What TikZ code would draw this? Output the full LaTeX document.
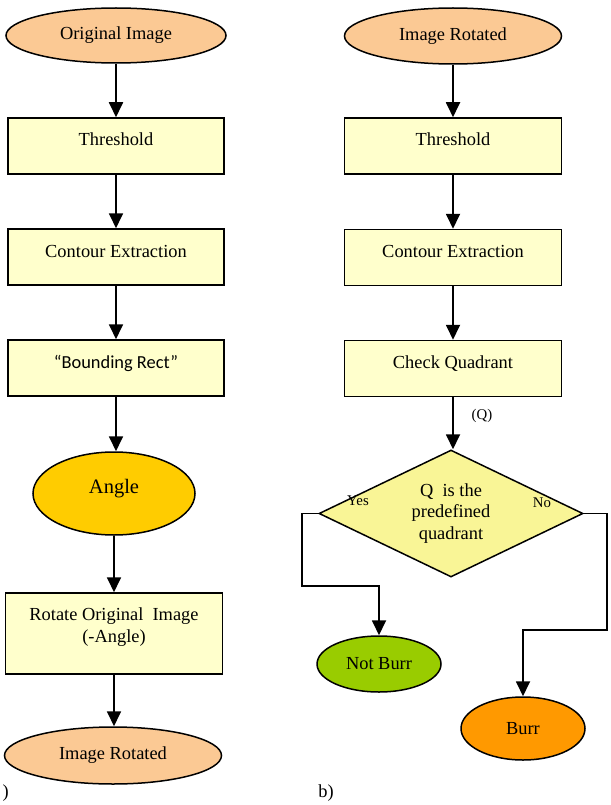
\documentclass[tikz,border=0pt]{standalone}
\usepackage{fontspec}
\setmainfont{Liberation Serif}
\newfontfamily\calibrifont{Carlito}
\usetikzlibrary{arrows.meta,shapes.geometric}
\definecolor{peach}{HTML}{FBC994}
\definecolor{paleyellow}{HTML}{FFFFCC}
\definecolor{amber}{HTML}{FFCC00}
\definecolor{decyellow}{HTML}{F9F596}
\definecolor{limegreen}{HTML}{99CC00}
\definecolor{burrorange}{HTML}{FF9900}

\begin{document}
\begin{tikzpicture}[x=1pt,y=-1pt,
  font=\fontsize{18.4}{21.5}\selectfont,
  flow/.style={line width=1.8pt,-{Triangle[length=15pt,width=14pt]}},
  procbox/.style={draw,line width=1.5pt,fill=paleyellow,minimum width=216pt,minimum height=56pt,inner sep=0pt,text height=12pt,text depth=12pt},
  term/.style={draw,line width=1.5pt,ellipse,inner sep=0pt},
  small/.style={font=\fontsize{14.8}{17}\selectfont}]
\useasboundingbox (0,0) rectangle (610,805);
% a) left chart
\node[term,fill=peach,minimum width=220pt,minimum height=55pt] (orig) at (116,35.5) {Original Image};
\node[procbox] (thrA) at (116,146) {Threshold};
\node[procbox] (contA) at (116,257) {Contour Extraction};
\node[procbox,font=\calibrifont\fontsize{18.4}{21.5}\selectfont] (bound) at (116,368) {“Bounding Rect”};
\node[term,fill=amber,minimum width=162pt,minimum height=83pt,font=\fontsize{20.5}{24}\selectfont,text height=14pt,text depth=14pt] (angle) at (114,493.5) {Angle};
\node[draw,line width=1.5pt,fill=paleyellow,minimum width=217pt,minimum height=81pt,inner sep=0pt,align=center] (rot) at (114,633.5) {Rotate Original\ \ Image\\(-Angle)\rule[-17pt]{0pt}{1pt}};
\node[term,fill=peach,minimum width=217pt,minimum height=57pt] (rotA) at (113,755.5) {Image Rotated};
\draw[flow] (orig.south) -- (orig.south |- thrA.north);
\draw[flow] (thrA.south) -- (thrA.south |- contA.north);
\draw[flow] (contA.south) -- (contA.south |- bound.north);
\draw[flow] (bound.south) -- (bound.south |- angle.north);
\draw[flow] (angle.south) -- (angle.south |- rot.north);
\draw[flow] (rot.south) -- (rot.south |- rotA.north);
\node[anchor=west] (labA) at (-1,793) {)};
% b) right chart
\node[term,fill=peach,minimum width=217pt,minimum height=56pt] (rotB) at (453,36) {Image Rotated};
\node[procbox,minimum width=217pt] (thrB) at (453,146) {Threshold};
\node[procbox,minimum width=217pt] (contB) at (453,257.5) {Contour Extraction};
\node[procbox,minimum width=217pt] (chk) at (453,368.5) {Check Quadrant};
\node[draw,line width=1.5pt,diamond,fill=decyellow,shape aspect=2.08,minimum width=264pt,minimum height=127pt,inner sep=0pt,align=center] (dec) at (451,513.5) {Q\ \ is the\\predefined\\quadrant};
\node[term,fill=limegreen,minimum width=124pt,minimum height=56pt] (notburr) at (379,664) {Not Burr};
\node[term,fill=burrorange,minimum width=124pt,minimum height=63pt] (burr) at (523,728.5) {Burr};
\coordinate (yesbend) at (302,586);
\coordinate (nobend) at (607,630);
\draw[flow] (rotB.south) -- (rotB.south |- thrB.north);
\draw[flow] (thrB.south) -- (thrB.south |- contB.north);
\draw[flow] (contB.south) -- (contB.south |- chk.north);
\draw[flow] (chk.south) -- (chk.south |- dec.north);
\draw[flow] (dec.west) -| (yesbend) -- (yesbend -| notburr.north) -- (notburr.north);
\draw[flow] (dec.east) -| (nobend) -- (nobend -| burr.north) -- (burr.north);
\node[small] (qlab) at (482,416) {(Q)};
\node[small] (yes) at (358,501) {Yes};
\node[small] (no) at (542,503) {No};
\node (labB) at (326,793) {b)};
\end{tikzpicture}
\end{document}
